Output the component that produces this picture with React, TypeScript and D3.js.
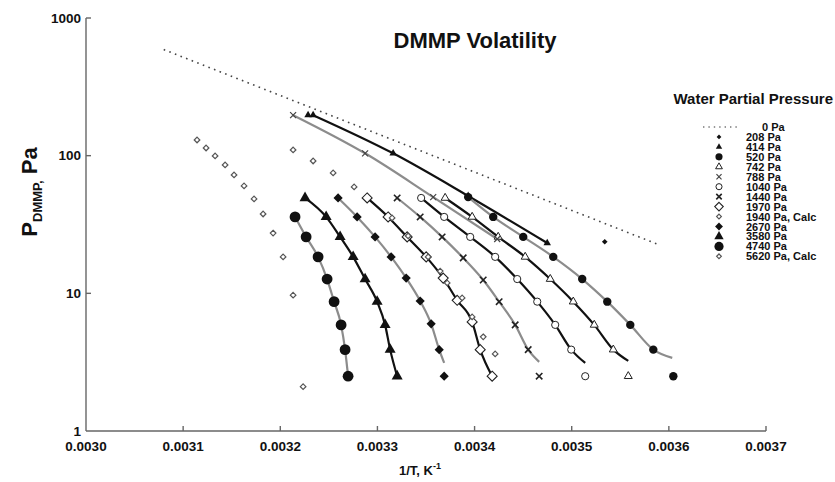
import React from "react";
import * as d3 from "d3";

// axis ticks
const xTicks = [0.003, 0.0031, 0.0032, 0.0033, 0.0034, 0.0035, 0.0036, 0.0037];
const yTicks = [1, 10, 100, 1000];

// [1/T, P_DMMP (Pa)], one array per water partial pressure
const pa0 = [[0.00308, 590], [0.00359, 22.5]];
const pa208 = [[0.003534, 23.7]];
const pa414 = [[0.0032286, 197], [0.0032338, 197], [0.0033162, 104], [0.0033934, 51], [0.0034748, 23.2]];
const pa520 = [[0.0033934, 50], [0.0034192, 35.9], [0.0034501, 25.7], [0.003481, 18.4], [0.0035108, 12.7], [0.0035366, 8.7], [0.0035603, 5.9], [0.003584, 3.9], [0.0036046, 2.5]];
const pa742 = [[0.0033697, 49.3], [0.0033975, 35.9], [0.0034243, 25.7], [0.0034521, 18.4], [0.0034779, 12.7], [0.0035016, 8.7], [0.0035232, 5.9], [0.0035428, 3.9], [0.0035582, 2.5]];
const pa788 = [[0.0032132, 197], [0.0032873, 104], [0.0033574, 50], [0.0034233, 24.8]];
const pa1040 = [[0.003345, 49.3], [0.0033687, 35.9], [0.0033955, 25.7], [0.0034212, 18.4], [0.0034439, 12.7], [0.0034645, 8.7], [0.003483, 5.9], [0.0034995, 3.9], [0.0035139, 2.5]];
const pa1440 = [[0.0033203, 49.3], [0.003344, 35.9], [0.0033666, 25.7], [0.0033883, 18.1], [0.0034089, 12.5], [0.0034253, 8.7], [0.0034418, 5.9], [0.0034552, 3.9], [0.0034665, 2.5]];
const pa1970 = [[0.0032894, 49.3], [0.003311, 35.9], [0.0033306, 25.7], [0.0033502, 18.4], [0.0033677, 12.9], [0.0033821, 8.9], [0.0033975, 6.2], [0.0034058, 3.9], [0.0034181, 2.5]];
const pa1940calc = [[0.0032132, 110], [0.0032338, 91.5], [0.0032544, 74.9], [0.003276, 59.3], [0.0033151, 35.3], [0.0033316, 26.1], [0.0033522, 18.4], [0.0033646, 14.5], [0.0033718, 11.9], [0.0033872, 9.26], [0.0033975, 6.74], [0.0034089, 4.83], [0.0034212, 3.63]];
const pa2670 = [[0.0032595, 49.3], [0.0032791, 35.9], [0.0032976, 25.7], [0.0033141, 18.4], [0.0033296, 12.9], [0.003344, 8.8], [0.0033553, 6.0], [0.0033636, 3.9], [0.0033687, 2.5]];
const pa3580 = [[0.0032255, 49.3], [0.0032472, 35.9], [0.0032616, 25.7], [0.003275, 18.4], [0.0032873, 12.7], [0.0032997, 8.7], [0.0033079, 5.9], [0.0033131, 3.9], [0.0033203, 2.5]];
const pa4740 = [[0.0032152, 35.9], [0.0032266, 25.7], [0.0032389, 18.4], [0.0032482, 12.7], [0.0032554, 8.7], [0.0032626, 5.9], [0.0032667, 3.9], [0.0032698, 2.5]];
const pa5620calc = [[0.0031143, 130], [0.0031236, 113.7], [0.0031329, 99.5], [0.0031432, 85.6], [0.0031524, 72.4], [0.0031627, 60.3], [0.003173, 48.5], [0.0031823, 37.7], [0.0031926, 27.4], [0.0032029, 18.4], [0.0032132, 9.7], [0.0032235, 2.1]];

// where the fitted curve stops when it doesn't reach the last point
const fitEnd520 = [0.0036035, 3.4];
const fitEnd742 = [0.0035582, 3.23];
const fitEnd1040 = [0.0035139, 3.12];
const fitEnd1440 = [0.0034665, 3.18];
const fitEnd2670 = [0.0033687, 3.12];

const series = [
  { label: "0 Pa", data: pa0, marker: null, line: "dot" },
  { label: "208 Pa", data: pa208, marker: "dot" },
  { label: "414 Pa", data: pa414, marker: "tri", line: "#111", from: 1 },
  { label: "520 Pa", data: pa520, marker: "circ", line: "#8c8c8c", end: fitEnd520 },
  { label: "742 Pa", data: pa742, marker: "otri", line: "#111", end: fitEnd742 },
  { label: "788 Pa", data: pa788, marker: "x", line: "#8c8c8c" },
  { label: "1040 Pa", data: pa1040, marker: "ocirc", line: "#111", end: fitEnd1040 },
  { label: "1440 Pa", data: pa1440, marker: "xb", line: "#8c8c8c", end: fitEnd1440 },
  { label: "1970 Pa", data: pa1970, marker: "odia", line: "#111" },
  { label: "1940 Pa, Calc", data: pa1940calc, marker: "sdia" },
  { label: "2670 Pa", data: pa2670, marker: "dia", line: "#8c8c8c", end: fitEnd2670 },
  { label: "3580 Pa", data: pa3580, marker: "btri", line: "#111" },
  { label: "4740 Pa", data: pa4740, marker: "bcirc", line: "#8c8c8c" },
  { label: "5620 Pa, Calc", data: pa5620calc, marker: "sdia" },
];

const W = 835;
const H = 482;
const FONT = "Arial, 'Liberation Sans', Helvetica, sans-serif";

const x = d3.scaleLinear().domain([0.003, 0.0037]).range([86, 766]);
const y = d3.scaleLog().domain([1, 1000]).range([431, 18]);

function tri(s) {
  const h = (s * Math.sqrt(3)) / 2;
  return `M0,${-(2 * h) / 3}L${s / 2},${h / 3}L${-s / 2},${h / 3}Z`;
}
function dia(r) {
  return `M0,${-r}L${r},0L0,${r}L${-r},0Z`;
}
function cross(r) {
  return `M${-r},${-r}L${r},${r}M${-r},${r}L${r},${-r}`;
}

function Marker({ type, cx, cy, k = 1 }) {
  const t = `translate(${cx},${cy})`;
  switch (type) {
    case "dot":
      return <path transform={t} d={dia(2.8 * k)} fill="#111" />;
    case "tri":
      return <path transform={t} d={tri(7.5 * k)} fill="#111" />;
    case "circ":
      return <circle cx={cx} cy={cy} r={4.2 * k} fill="#111" />;
    case "otri":
      return <path transform={t} d={tri(8 * k)} fill="#fff" stroke="#222" strokeWidth={1} />;
    case "x":
      return <path transform={t} d={cross(3 * k)} stroke="#444" strokeWidth={1.2} />;
    case "xb":
      return <path transform={t} d={cross(3.2 * k)} stroke="#222" strokeWidth={1.6} />;
    case "ocirc":
      return <circle cx={cx} cy={cy} r={3.6 * k} fill="#fff" stroke="#222" strokeWidth={1} />;
    case "odia":
      return <path transform={t} d={dia(5 * k)} fill="#fff" stroke="#222" strokeWidth={1.1} />;
    case "sdia":
      return <path transform={t} d={dia(2.8 * k)} fill="#fff" stroke="#555" strokeWidth={1.2} />;
    case "dia":
      return <path transform={t} d={dia(4.6 * k)} fill="#111" />;
    case "btri":
      return <path transform={t} d={tri(11 * k)} fill="#111" />;
    case "bcirc":
      return <circle cx={cx} cy={cy} r={5.4 * k} fill="#111" />;
    default:
      return null;
  }
}

export default function App() {
  const line = d3
    .line()
    .x((d) => x(d[0]))
    .y((d) => y(d[1]))
    .curve(d3.curveMonotoneX);

  const legendX = 719;
  const legendY = 127;
  const legendStep = 9.95;

  return (
    <svg
      width={W}
      height={H}
      style={{ position: "absolute", left: 0, top: 0, background: "#fff" }}
      fontFamily={FONT}
    >
      {/* axes */}
      <g stroke="#666" strokeWidth={1.4} fill="none">
        <line x1={x(0.003)} x2={x(0.003)} y1={y(1000)} y2={y(1)} />
        <line x1={x(0.003)} x2={x(0.0037)} y1={y(1)} y2={y(1)} />
        {yTicks.slice(1).map((t) => (
          <line key={t} x1={x(0.003)} x2={x(0.003) + 5} y1={y(t)} y2={y(t)} />
        ))}
        {xTicks.slice(1).map((t) => (
          <line key={t} x1={x(t)} x2={x(t)} y1={y(1)} y2={y(1) - 5} />
        ))}
      </g>
      <g fontSize={13.5} fontWeight="bold" fill="#111">
        {yTicks.map((t) => (
          <text key={t} x={x(0.003) - 5} y={y(t)} textAnchor="end" dominantBaseline="central">
            {t}
          </text>
        ))}
        {xTicks.map((t) => (
          <text key={t} x={x(t)} y={y(1) + 20} textAnchor="middle">
            {t.toFixed(4)}
          </text>
        ))}
      </g>
      <text x={420} y={475} textAnchor="middle" fontSize={13} fontWeight="bold" fill="#111">
        1/T, K<tspan dy={-6} fontSize={9}>-1</tspan>
      </text>
      <text
        transform={`translate(37,192) rotate(-90)`}
        textAnchor="middle"
        fontSize={22}
        fontWeight="bold"
        fill="#111"
      >
        P<tspan dy={5} fontSize={13}>DMMP,</tspan>
        <tspan dy={-5}> Pa</tspan>
      </text>
      <text x={475} y={48} textAnchor="middle" fontSize={22} fontWeight="bold" fill="#111">
        DMMP Volatility
      </text>

      {/* fitted curves */}
      {series
        .filter((s) => s.line)
        .map((s) => {
          if (s.line === "dot") {
            return (
              <path
                key={s.label}
                d={line(s.data)}
                fill="none"
                stroke="#444"
                strokeWidth={1.6}
                strokeDasharray="1.6 4.4"
              />
            );
          }
          let pts = s.end ? [...s.data.slice(0, -1), s.end] : s.data;
          if (s.from) pts = pts.slice(s.from);
          return (
            <path key={s.label} d={line(pts)} fill="none" stroke={s.line} strokeWidth={2.2} />
          );
        })}

      {/* data points */}
      {series
        .filter((s) => s.marker)
        .map((s) => (
          <g key={s.label}>
            {s.data.map((d, i) => (
              <Marker key={i} type={s.marker} cx={x(d[0])} cy={y(d[1])} />
            ))}
          </g>
        ))}

      {/* legend */}
      <text x={833} y={104} textAnchor="end" fontSize={15} fontWeight="bold" fill="#111">
        Water Partial Pressure
      </text>
      {series.map((s, i) => {
        const cy = legendY + i * legendStep;
        return (
          <g key={s.label}>
            {s.marker ? (
              <Marker type={s.marker} cx={legendX} cy={cy} k={0.85} />
            ) : (
              <line
                x1={703}
                x2={740}
                y1={cy}
                y2={cy}
                stroke="#777"
                strokeWidth={1.4}
                strokeDasharray="1.4 4"
              />
            )}
            <text
              x={s.label === "0 Pa" ? 762 : 746}
              y={cy + 4}
              fontSize={11}
              fontWeight="bold"
              fill="#111"
            >
              {s.label}
            </text>
          </g>
        );
      })}
    </svg>
  );
}
